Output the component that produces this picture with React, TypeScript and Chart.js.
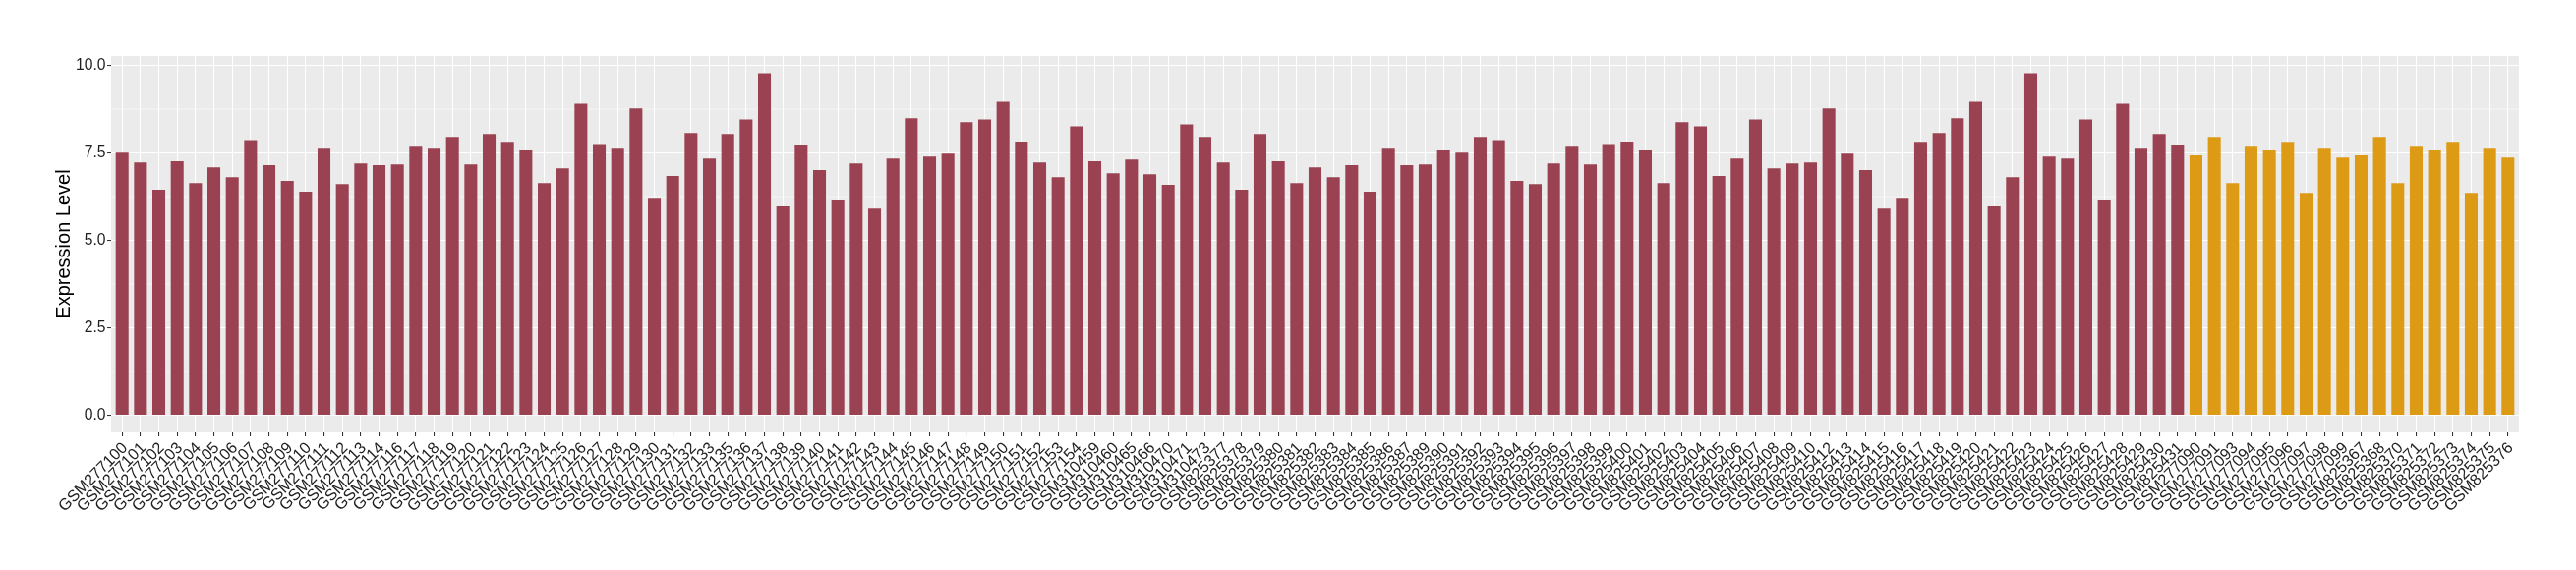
import React, { useEffect, useRef } from "react";
import { Chart, registerables } from "chart.js";

Chart.register(...registerables);

// Sample identifiers (x-axis categories), in display order
const groupASamples: string[] = [
  "GSM277100", "GSM277101", "GSM277102", "GSM277103", "GSM277104", "GSM277105", "GSM277106", "GSM277107",
  "GSM277108", "GSM277109", "GSM277110", "GSM277111", "GSM277112", "GSM277113", "GSM277114", "GSM277116",
  "GSM277117", "GSM277118", "GSM277119", "GSM277120", "GSM277121", "GSM277122", "GSM277123", "GSM277124",
  "GSM277125", "GSM277126", "GSM277127", "GSM277128", "GSM277129", "GSM277130", "GSM277131", "GSM277132",
  "GSM277133", "GSM277135", "GSM277136", "GSM277137", "GSM277138", "GSM277139", "GSM277140", "GSM277141",
  "GSM277142", "GSM277143", "GSM277144", "GSM277145", "GSM277146", "GSM277147", "GSM277148", "GSM277149",
  "GSM277150", "GSM277151", "GSM277152", "GSM277153", "GSM277154", "GSM310459", "GSM310460", "GSM310465",
  "GSM310466", "GSM310470", "GSM310471", "GSM310473", "GSM825377", "GSM825378", "GSM825379", "GSM825380",
  "GSM825381", "GSM825382", "GSM825383", "GSM825384", "GSM825385", "GSM825386", "GSM825387", "GSM825389",
  "GSM825390", "GSM825391", "GSM825392", "GSM825393", "GSM825394", "GSM825395", "GSM825396", "GSM825397",
  "GSM825398", "GSM825399", "GSM825400", "GSM825401", "GSM825402", "GSM825403", "GSM825404", "GSM825405",
  "GSM825406", "GSM825407", "GSM825408", "GSM825409", "GSM825410", "GSM825412", "GSM825413", "GSM825414",
  "GSM825415", "GSM825416", "GSM825417", "GSM825418", "GSM825419", "GSM825420", "GSM825421", "GSM825422",
  "GSM825423", "GSM825424", "GSM825425", "GSM825426", "GSM825427", "GSM825428", "GSM825429", "GSM825430",
  "GSM825431",
];

const groupBSamples: string[] = [
  "GSM277090", "GSM277091", "GSM277093", "GSM277094", "GSM277095", "GSM277096", "GSM277097", "GSM277098",
  "GSM277099", "GSM825367", "GSM825368", "GSM825370", "GSM825371", "GSM825372", "GSM825373", "GSM825374",
  "GSM825375", "GSM825376",
];

// Expression levels
const groupAValues: number[] = [
  7.51, 7.23, 6.45, 7.26, 6.64, 7.09, 6.81, 7.87, 7.15, 6.70, 6.39, 7.62, 6.61, 7.20, 7.15, 7.17,
  7.68, 7.62, 7.96, 7.17, 8.04, 7.79, 7.57, 6.64, 7.06, 8.91, 7.73, 7.62, 8.77, 6.22, 6.84, 8.07,
  7.34, 8.04, 8.46, 9.78, 5.97, 7.71, 7.01, 6.14, 7.20, 5.91, 7.34, 8.49, 7.40, 7.48, 8.38, 8.46,
  8.96, 7.82, 7.23, 6.81, 8.26, 7.26, 6.92, 7.31, 6.89, 6.59, 8.32, 7.96, 7.23, 6.45, 8.04, 7.26,
  6.64, 7.09, 6.81, 7.15, 6.39, 7.62, 7.15, 7.17, 7.57, 7.51, 7.96, 7.87, 6.70, 6.61, 7.20, 7.68,
  7.17, 7.73, 7.82, 7.57, 6.64, 8.38, 8.26, 6.84, 7.34, 8.46, 7.06, 7.20, 7.23, 8.77, 7.48, 7.01,
  5.91, 6.22, 7.79, 8.07, 8.49, 8.96, 5.97, 6.81, 9.78, 7.40, 7.34, 8.46, 6.14, 8.91, 7.62, 8.04,
  7.71,
];

const groupBValues: number[] = [
  7.43, 7.96, 6.64, 7.68, 7.57, 7.79, 6.36, 7.62, 7.37, 7.43, 7.96, 6.64, 7.68, 7.57, 7.79, 6.36,
  7.62, 7.37,
];

const yMajorTicks: number[] = [0, 2.5, 5, 7.5, 10];
const yMinorTicks: number[] = [1.25, 3.75, 6.25, 8.75];

const allSamples = [...groupASamples, ...groupBSamples];

const FONT = "'Liberation Sans', Arial, Helvetica, sans-serif";

const panelPlugin = {
  id: "ggPanel",
  beforeDraw(chart: any) {
    const { ctx, chartArea: a, scales } = chart;
    const y = scales.y;
    ctx.save();
    ctx.fillStyle = "#EBEBEB";
    ctx.fillRect(a.left, a.top, a.right - a.left, a.bottom - a.top);
    ctx.strokeStyle = "#FFFFFF";
    ctx.lineWidth = 0.55;
    for (const v of yMinorTicks) {
      const py = y.getPixelForValue(v);
      ctx.beginPath();
      ctx.moveTo(a.left, py);
      ctx.lineTo(a.right, py);
      ctx.stroke();
    }
    ctx.restore();
  },
};

export default function App() {
  const canvasRef = useRef<HTMLCanvasElement | null>(null);

  useEffect(() => {
    document.body.style.margin = "0";
    const canvas = canvasRef.current;
    if (!canvas) return;

    const dataA = groupAValues.map((v, i) => ({ x: i, y: v }));
    const dataB = groupBValues.map((v, i) => ({ x: groupAValues.length + i, y: v }));
    const n = allSamples.length;

    const chart = new Chart(canvas, {
      type: "bar",
      data: {
        datasets: [
          {
            label: "Group A",
            data: dataA,
            backgroundColor: "#9A4251",
            borderWidth: 0,
            grouped: false,
            barPercentage: 0.7,
            categoryPercentage: 1,
          },
          {
            label: "Group B",
            data: dataB,
            backgroundColor: "#DD9A14",
            borderWidth: 0,
            grouped: false,
            barPercentage: 0.7,
            categoryPercentage: 1,
          },
        ],
      },
      plugins: [panelPlugin],
      options: {
        responsive: false,
        animation: false,
        devicePixelRatio: 1,
        layout: { padding: { left: 0, top: 57, right: 58, bottom: 0 } },
        plugins: {
          legend: { display: false },
          tooltip: { enabled: false },
        },
        scales: {
          x: {
            type: "linear",
            min: -0.6,
            max: n - 1 + 0.6,
            offset: false,
            border: { display: false },
            grid: {
              offset: false,
              color: "#FFFFFF",
              lineWidth: 1.07,
              tickColor: "#333333",
              tickLength: 4,
              drawOnChartArea: true,
            },
            ticks: {
              stepSize: 1,
              includeBounds: false,
              autoSkip: false,
              minRotation: 45,
              maxRotation: 45,
              padding: 2.4,
              labelOffset: 3,
              color: "#1f1f1f",
              font: { family: FONT, size: 16.3 },
              callback: (value: any) => {
                const i = Math.round(Number(value));
                return Math.abs(Number(value) - i) < 1e-6 ? allSamples[i] ?? "" : "";
              },
            },
            afterFit: (scale: any) => {
              scale.height = 140;
            },
          },
          y: {
            type: "linear",
            min: -0.489,
            max: 10.269,
            border: { display: false },
            grid: {
              color: "#FFFFFF",
              lineWidth: 1.07,
              tickColor: "#333333",
              tickLength: 4,
            },
            afterBuildTicks: (scale: any) => {
              scale.ticks = yMajorTicks.map((v) => ({ value: v }));
            },
            ticks: {
              padding: 1.5,
              color: "#1f1f1f",
              font: { family: FONT, size: 15.7 },
              callback: (value: any) => Number(value).toFixed(1),
            },
            title: {
              display: true,
              text: "Expression Level",
              color: "#000000",
              font: { family: FONT, size: 20 },
              padding: { top: 53, bottom: 0 },
            },
            afterFit: (scale: any) => {
              scale.width = 113;
            },
          },
        },
      },
    } as any);

    return () => {
      chart.destroy();
    };
  }, []);

  return (
    <div style={{ width: 2620, height: 580, background: "#FFFFFF" }}>
      <canvas ref={canvasRef} width={2620} height={580} style={{ display: "block" }} />
    </div>
  );
}
